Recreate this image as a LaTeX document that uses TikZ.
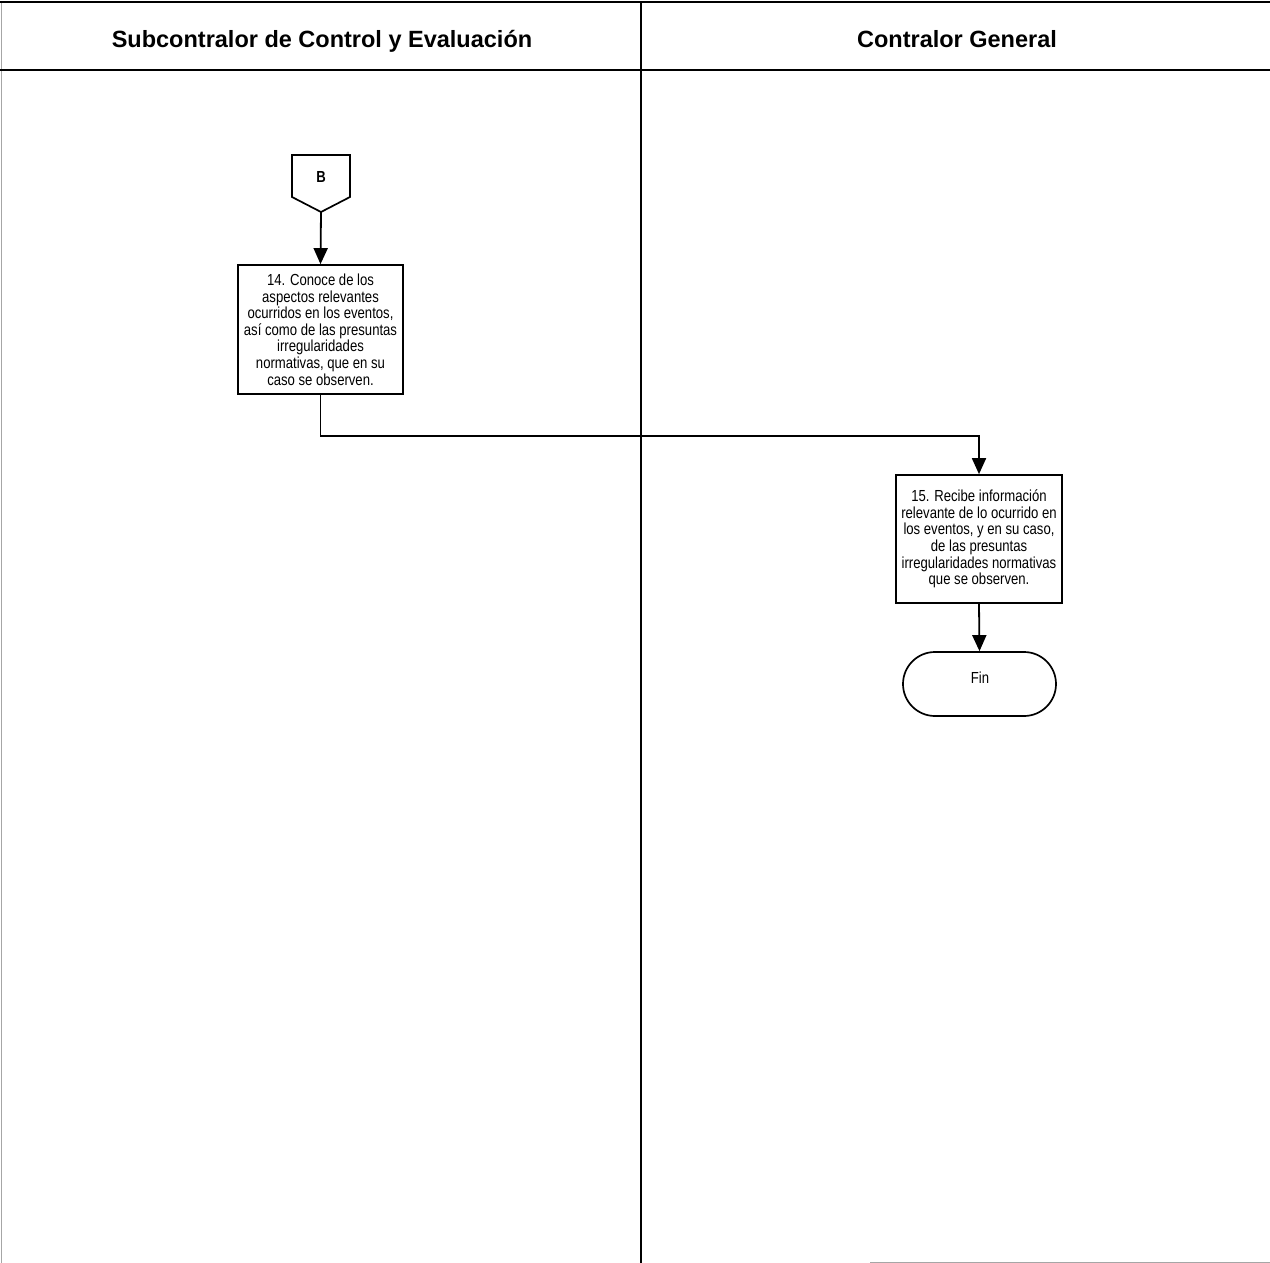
\documentclass[tikz,border=0pt]{standalone}
\usepackage{fontspec}
\setmainfont{Liberation Sans}
\newfontfamily\narrowfont[FakeStretch=0.82]{Liberation Sans}
\usetikzlibrary{arrows.meta}

\tikzset{
  lane/.style={line width=1.8pt, draw=black},
  faint/.style={line width=1pt, draw=black!35},
  lanetitle/.style={font=\fontsize{23.5}{27}\selectfont\bfseries, inner sep=0pt, anchor=base},
  procbox/.style={draw, line width=1.7pt, rectangle, inner sep=0pt,
    minimum width=165pt, minimum height=129pt, align=center,
    font=\narrowfont\fontsize{16}{16.6}\selectfont},
  terminal/.style={draw, line width=1.7pt, rectangle, rounded corners=32pt,
    minimum width=153pt, minimum height=64pt, inner sep=0pt},
  flow/.style={line width=1.8pt, -{Triangle[width=14pt,length=16pt]}},
  plain/.style={line width=1.7pt}
}

\begin{document}
\begin{tikzpicture}[x=1pt,y=-1pt]
\useasboundingbox (0,0) rectangle (1270,1263);

% swimlane frame
\draw[faint] (1,2) -- (1,1263);
\draw[lane] (0,2) -- (1270,2);
\draw[lane] (0,70) -- (1270,70);
\draw[lane] (641,2) -- (641,1263);
\draw[faint] (870,1262) -- (1270,1262);

% lane titles
\node[lanetitle] (t1) at (322,48) {Subcontralor de Control y Evaluación};
\node[lanetitle] (t2) at (957,48) {Contralor General};

% off-page connector B
\draw[plain, line join=miter] (292,155) -- (350,155) -- (350,197) -- (321,212) -- (292,197) -- cycle;
\node[font=\narrowfont\fontsize{16}{16}\selectfont\bfseries] (B) at (321,177) {B};
\coordinate (Btip) at (321,212);

% activities
\node[procbox] (a14) at (320.5,329.5) {14. Conoce de los\\aspectos relevantes\\ocurridos en los eventos,\\así como de las presuntas\\irregularidades\\normativas, que en su\\caso se observen.};
\node[procbox, minimum width=166pt, minimum height=128pt] (a15) at (979,539) {15. Recibe información\\relevante de lo ocurrido en\\los eventos, y en su caso,\\de las presuntas\\irregularidades normativas\\que se observen.};
\node[terminal] (fin) at (979.5,684) {};
\node[font=\narrowfont\fontsize{16}{17}\selectfont] (fintext) at (980,678) {Fin};

% connectors
\draw[flow] (Btip) -- (a14.north);
\draw[flow] (a14.south) -- ++(0,41) -| (a15.north);
\draw[flow] (a15.south) -- (fin.north);
\end{tikzpicture}
\end{document}
